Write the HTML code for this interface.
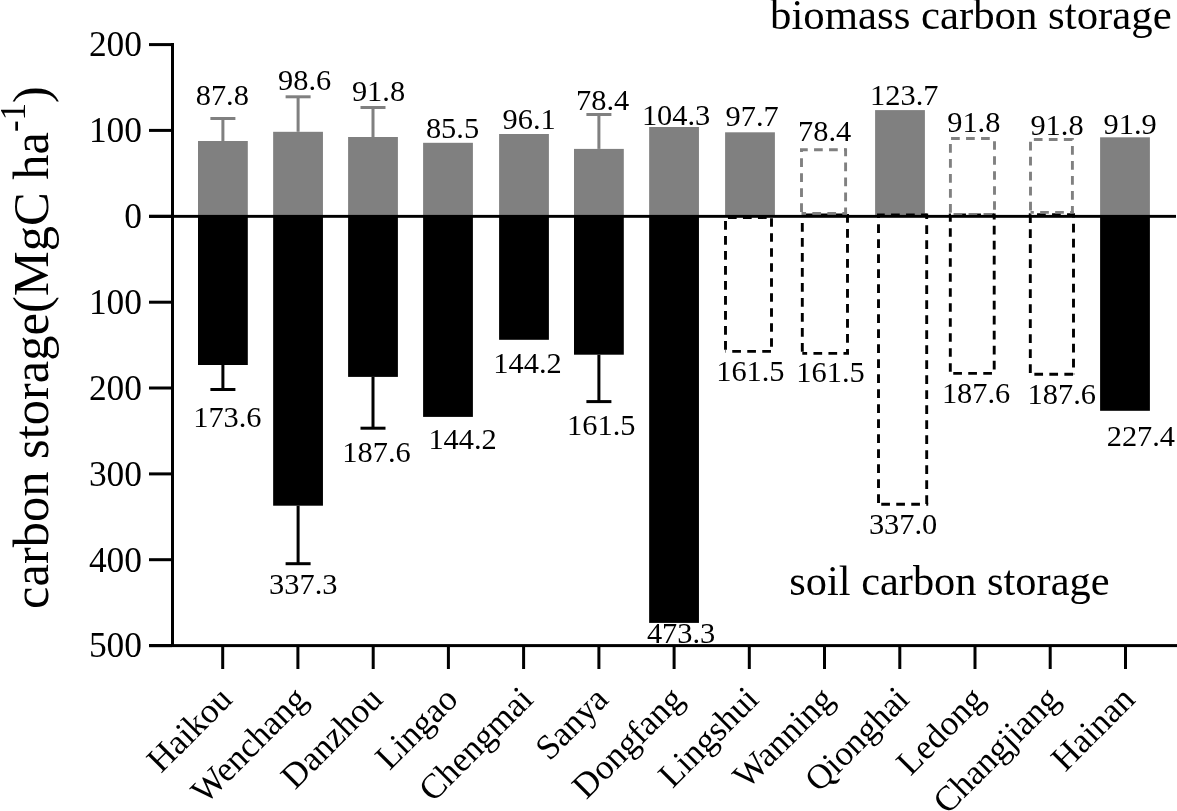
<!DOCTYPE html>
<html><head><meta charset="utf-8"><style>
html,body{margin:0;padding:0;background:#fff;width:1177px;height:811px;overflow:hidden;}
text{font-family:"Liberation Serif", serif;fill:#000;}
</style></head><body>
<svg width="1177" height="811" viewBox="0 0 1177 811" style="display:block;will-change:transform">
<rect width="1177" height="811" fill="#fff"/>
<rect x="198.00" y="141.0" width="49.8" height="75.3" fill="#808080"/>
<rect x="273.15" y="131.8" width="49.8" height="84.5" fill="#808080"/>
<rect x="348.10" y="137.0" width="49.8" height="79.3" fill="#808080"/>
<rect x="423.10" y="142.8" width="49.8" height="73.5" fill="#808080"/>
<rect x="499.10" y="134.0" width="49.8" height="82.3" fill="#808080"/>
<rect x="574.00" y="148.9" width="49.8" height="67.4" fill="#808080"/>
<rect x="649.15" y="127.0" width="49.8" height="89.3" fill="#808080"/>
<rect x="725.10" y="132.3" width="49.8" height="84.0" fill="#808080"/>
<rect x="875.10" y="110.1" width="49.8" height="106.2" fill="#808080"/>
<rect x="1100.10" y="137.3" width="49.8" height="79.0" fill="#808080"/>
<rect x="198.00" y="216.3" width="49.8" height="148.7" fill="#000"/>
<rect x="273.15" y="216.3" width="49.8" height="289.4" fill="#000"/>
<rect x="348.10" y="216.3" width="49.8" height="160.6" fill="#000"/>
<rect x="423.10" y="216.3" width="49.8" height="200.6" fill="#000"/>
<rect x="499.10" y="216.3" width="49.8" height="123.5" fill="#000"/>
<rect x="574.00" y="216.3" width="49.8" height="138.4" fill="#000"/>
<rect x="649.15" y="216.3" width="49.8" height="406.6" fill="#000"/>
<rect x="1100.10" y="216.3" width="49.8" height="194.5" fill="#000"/>
<line x1="724.0" y1="217.5" x2="771.5" y2="217.5" stroke="#000" stroke-width="2.9" stroke-dasharray="8.7 6.3" stroke-dashoffset="11.05"/>
<line x1="771.5" y1="216.1" x2="771.5" y2="351.4" stroke="#000" stroke-width="2.9" stroke-dasharray="8.7 6.3" stroke-dashoffset="12.95"/>
<line x1="773.0" y1="351.4" x2="725.5" y2="351.4" stroke="#000" stroke-width="2.9" stroke-dasharray="8.7 6.3" stroke-dashoffset="12.95"/>
<line x1="725.5" y1="352.8" x2="725.5" y2="217.5" stroke="#000" stroke-width="2.9" stroke-dasharray="8.7 6.3" stroke-dashoffset="11.95"/>
<line x1="800.8" y1="215.0" x2="847.5" y2="215.0" stroke="#000" stroke-width="2.9" stroke-dasharray="8.7 6.3" stroke-dashoffset="9.85"/>
<line x1="847.5" y1="213.6" x2="847.5" y2="353.4" stroke="#000" stroke-width="2.9" stroke-dasharray="8.7 6.3" stroke-dashoffset="14.55"/>
<line x1="849.0" y1="353.4" x2="802.3" y2="353.4" stroke="#000" stroke-width="2.9" stroke-dasharray="8.7 6.3" stroke-dashoffset="3.15"/>
<line x1="802.3" y1="354.8" x2="802.3" y2="215.0" stroke="#000" stroke-width="2.9" stroke-dasharray="8.7 6.3" stroke-dashoffset="11.85"/>
<line x1="877.0" y1="215.0" x2="926.7" y2="215.0" stroke="#000" stroke-width="2.9" stroke-dasharray="8.7 6.3" stroke-dashoffset="0.95"/>
<line x1="926.7" y1="213.6" x2="926.7" y2="504.2" stroke="#000" stroke-width="2.9" stroke-dasharray="8.7 6.3" stroke-dashoffset="3.25"/>
<line x1="928.2" y1="504.2" x2="878.5" y2="504.2" stroke="#000" stroke-width="2.9" stroke-dasharray="8.7 6.3" stroke-dashoffset="6.75"/>
<line x1="878.5" y1="505.6" x2="878.5" y2="215.0" stroke="#000" stroke-width="2.9" stroke-dasharray="8.7 6.3" stroke-dashoffset="12.35"/>
<line x1="948.8" y1="215.0" x2="994.2" y2="215.0" stroke="#000" stroke-width="2.9" stroke-dasharray="8.7 6.3" stroke-dashoffset="6.55"/>
<line x1="994.2" y1="213.6" x2="994.2" y2="373.4" stroke="#000" stroke-width="2.9" stroke-dasharray="8.7 6.3" stroke-dashoffset="2.75"/>
<line x1="995.7" y1="373.4" x2="950.3" y2="373.4" stroke="#000" stroke-width="2.9" stroke-dasharray="8.7 6.3" stroke-dashoffset="11.25"/>
<line x1="950.3" y1="374.8" x2="950.3" y2="215.0" stroke="#000" stroke-width="2.9" stroke-dasharray="8.7 6.3" stroke-dashoffset="12.05"/>
<line x1="1028.8" y1="214.6" x2="1073.5" y2="214.6" stroke="#000" stroke-width="2.9" stroke-dasharray="8.7 6.3" stroke-dashoffset="6.75"/>
<line x1="1073.5" y1="213.2" x2="1073.5" y2="374.3" stroke="#000" stroke-width="2.9" stroke-dasharray="8.7 6.3" stroke-dashoffset="4.35"/>
<line x1="1075.0" y1="374.3" x2="1030.3" y2="374.3" stroke="#000" stroke-width="2.9" stroke-dasharray="8.7 6.3" stroke-dashoffset="13.05"/>
<line x1="1030.3" y1="375.8" x2="1030.3" y2="214.6" stroke="#000" stroke-width="2.9" stroke-dasharray="8.7 6.3" stroke-dashoffset="12.15"/>
<line x1="800.0" y1="149.7" x2="845.6" y2="149.7" stroke="#808080" stroke-width="2.9" stroke-dasharray="8.7 6.3" stroke-dashoffset="0.95"/>
<line x1="845.6" y1="148.2" x2="845.6" y2="213.5" stroke="#808080" stroke-width="2.9" stroke-dasharray="8.7 6.3" stroke-dashoffset="0.75"/>
<line x1="847.1" y1="213.5" x2="801.5" y2="213.5" stroke="#808080" stroke-width="2.9" stroke-dasharray="8.7 6.3" stroke-dashoffset="3.95"/>
<line x1="801.5" y1="214.9" x2="801.5" y2="149.7" stroke="#808080" stroke-width="2.9" stroke-dasharray="8.7 6.3" stroke-dashoffset="12.15"/>
<line x1="948.9" y1="138.5" x2="994.5" y2="138.5" stroke="#808080" stroke-width="2.9" stroke-dasharray="8.7 6.3" stroke-dashoffset="12.85"/>
<line x1="994.5" y1="137.1" x2="994.5" y2="214.5" stroke="#808080" stroke-width="2.9" stroke-dasharray="8.7 6.3" stroke-dashoffset="10.95"/>
<line x1="996.0" y1="214.5" x2="950.4" y2="214.5" stroke="#808080" stroke-width="2.9" stroke-dasharray="8.7 6.3" stroke-dashoffset="11.25"/>
<line x1="950.4" y1="215.9" x2="950.4" y2="138.5" stroke="#808080" stroke-width="2.9" stroke-dasharray="8.7 6.3" stroke-dashoffset="11.85"/>
<line x1="1029.0" y1="139.5" x2="1072.4" y2="139.5" stroke="#808080" stroke-width="2.9" stroke-dasharray="8.7 6.3" stroke-dashoffset="10.15"/>
<line x1="1072.4" y1="138.1" x2="1072.4" y2="212.4" stroke="#808080" stroke-width="2.9" stroke-dasharray="8.7 6.3" stroke-dashoffset="7.15"/>
<line x1="1073.9" y1="212.4" x2="1030.5" y2="212.4" stroke="#808080" stroke-width="2.9" stroke-dasharray="8.7 6.3" stroke-dashoffset="4.95"/>
<line x1="1030.5" y1="213.8" x2="1030.5" y2="139.5" stroke="#808080" stroke-width="2.9" stroke-dasharray="8.7 6.3" stroke-dashoffset="11.65"/>
<rect x="221.4" y="118.5" width="3" height="22.5" fill="#808080"/>
<rect x="210.4" y="117.0" width="25" height="3" fill="#808080"/>
<rect x="296.6" y="96.8" width="3" height="35.0" fill="#808080"/>
<rect x="285.6" y="95.3" width="25" height="3" fill="#808080"/>
<rect x="371.5" y="107.5" width="3" height="29.5" fill="#808080"/>
<rect x="360.5" y="106.0" width="25" height="3" fill="#808080"/>
<rect x="597.4" y="114.5" width="3" height="34.4" fill="#808080"/>
<rect x="586.4" y="113.0" width="25" height="3" fill="#808080"/>
<rect x="221.4" y="365.0" width="3" height="24.5" fill="#000"/>
<rect x="210.4" y="388.0" width="25" height="3" fill="#000"/>
<rect x="296.6" y="505.7" width="3" height="58.0" fill="#000"/>
<rect x="285.6" y="562.2" width="25" height="3" fill="#000"/>
<rect x="371.5" y="376.9" width="3" height="51.3" fill="#000"/>
<rect x="360.5" y="426.7" width="25" height="3" fill="#000"/>
<rect x="597.4" y="354.7" width="3" height="46.9" fill="#000"/>
<rect x="586.4" y="400.1" width="25" height="3" fill="#000"/>
<rect x="171" y="43" width="3" height="604" fill="#000"/>
<rect x="149" y="43.1" width="23" height="3" fill="#000"/>
<text x="142" y="56.4" font-size="35.4" text-anchor="end" font-family='"Liberation Serif", serif'>200</text>
<rect x="149" y="128.9" width="23" height="3" fill="#000"/>
<text x="142" y="142.2" font-size="35.4" text-anchor="end" font-family='"Liberation Serif", serif'>100</text>
<rect x="149" y="214.8" width="23" height="3" fill="#000"/>
<text x="142" y="228.1" font-size="35.4" text-anchor="end" font-family='"Liberation Serif", serif'>0</text>
<rect x="149" y="300.7" width="23" height="3" fill="#000"/>
<text x="142" y="314.0" font-size="35.4" text-anchor="end" font-family='"Liberation Serif", serif'>100</text>
<rect x="149" y="386.5" width="23" height="3" fill="#000"/>
<text x="142" y="399.8" font-size="35.4" text-anchor="end" font-family='"Liberation Serif", serif'>200</text>
<rect x="149" y="472.4" width="23" height="3" fill="#000"/>
<text x="142" y="485.7" font-size="35.4" text-anchor="end" font-family='"Liberation Serif", serif'>300</text>
<rect x="149" y="558.2" width="23" height="3" fill="#000"/>
<text x="142" y="571.5" font-size="35.4" text-anchor="end" font-family='"Liberation Serif", serif'>400</text>
<rect x="149" y="644.1" width="23" height="3" fill="#000"/>
<text x="142" y="657.4" font-size="35.4" text-anchor="end" font-family='"Liberation Serif", serif'>500</text>
<rect x="149" y="214.9" width="1027" height="2.9" fill="#000"/>
<rect x="149" y="644.1" width="1028" height="3" fill="#000"/>
<rect x="221.2" y="646" width="3" height="23" fill="#000"/>
<text transform="translate(233.9,701.2) rotate(-45)" font-size="35" text-anchor="end" font-family='"Liberation Serif", serif'>Haikou</text>
<rect x="296.4" y="646" width="3" height="23" fill="#000"/>
<text transform="translate(309.1,701.2) rotate(-45)" font-size="35" text-anchor="end" font-family='"Liberation Serif", serif'>Wenchang</text>
<rect x="371.7" y="646" width="3" height="23" fill="#000"/>
<text transform="translate(384.4,701.2) rotate(-45)" font-size="35" text-anchor="end" font-family='"Liberation Serif", serif'>Danzhou</text>
<rect x="446.9" y="646" width="3" height="23" fill="#000"/>
<text transform="translate(459.6,701.2) rotate(-45)" font-size="35" text-anchor="end" font-family='"Liberation Serif", serif'>Lingao</text>
<rect x="522.1" y="646" width="3" height="23" fill="#000"/>
<text transform="translate(534.8,701.2) rotate(-45)" font-size="35" text-anchor="end" font-family='"Liberation Serif", serif'>Chengmai</text>
<rect x="597.4" y="646" width="3" height="23" fill="#000"/>
<text transform="translate(610.1,701.2) rotate(-45)" font-size="35" text-anchor="end" font-family='"Liberation Serif", serif'>Sanya</text>
<rect x="672.6" y="646" width="3" height="23" fill="#000"/>
<text transform="translate(685.3,701.2) rotate(-45)" font-size="35" text-anchor="end" font-family='"Liberation Serif", serif'>Dongfang</text>
<rect x="747.8" y="646" width="3" height="23" fill="#000"/>
<text transform="translate(760.5,701.2) rotate(-45)" font-size="35" text-anchor="end" font-family='"Liberation Serif", serif'>Lingshui</text>
<rect x="823.0" y="646" width="3" height="23" fill="#000"/>
<text transform="translate(835.7,701.2) rotate(-45)" font-size="35" text-anchor="end" font-family='"Liberation Serif", serif'>Wanning</text>
<rect x="898.3" y="646" width="3" height="23" fill="#000"/>
<text transform="translate(911.0,701.2) rotate(-45)" font-size="35" text-anchor="end" font-family='"Liberation Serif", serif'>Qionghai</text>
<rect x="973.5" y="646" width="3" height="23" fill="#000"/>
<text transform="translate(986.2,701.2) rotate(-45)" font-size="35" text-anchor="end" font-family='"Liberation Serif", serif'>Ledong</text>
<rect x="1048.7" y="646" width="3" height="23" fill="#000"/>
<text transform="translate(1061.4,701.2) rotate(-45)" font-size="35" text-anchor="end" font-family='"Liberation Serif", serif'>Changjiang</text>
<rect x="1124.0" y="646" width="3" height="23" fill="#000"/>
<text transform="translate(1136.7,701.2) rotate(-45)" font-size="35" text-anchor="end" font-family='"Liberation Serif", serif'>Hainan</text>
<text x="195.7" y="105.4" font-size="30.4" font-family='"Liberation Serif", serif'>87.8</text>
<text x="278.1" y="89.5" font-size="30.4" font-family='"Liberation Serif", serif'>98.6</text>
<text x="351.9" y="101.1" font-size="30.4" font-family='"Liberation Serif", serif'>91.8</text>
<text x="425.9" y="137.8" font-size="30.4" font-family='"Liberation Serif", serif'>85.5</text>
<text x="502.6" y="129.2" font-size="30.4" font-family='"Liberation Serif", serif'>96.1</text>
<text x="576.0" y="109.9" font-size="30.4" font-family='"Liberation Serif", serif'>78.4</text>
<text x="641.9" y="124.7" font-size="30.4" font-family='"Liberation Serif", serif'>104.3</text>
<text x="725.6" y="126.1" font-size="30.4" font-family='"Liberation Serif", serif'>97.7</text>
<text x="798.0" y="140.5" font-size="30.4" font-family='"Liberation Serif", serif'>78.4</text>
<text x="870.1" y="105.2" font-size="30.4" font-family='"Liberation Serif", serif'>123.7</text>
<text x="947.2" y="131.9" font-size="30.4" font-family='"Liberation Serif", serif'>91.8</text>
<text x="1030.4" y="134.6" font-size="30.4" font-family='"Liberation Serif", serif'>91.8</text>
<text x="1103.5" y="134.1" font-size="30.4" font-family='"Liberation Serif", serif'>91.9</text>
<text x="193.2" y="426.8" font-size="30.4" font-family='"Liberation Serif", serif'>173.6</text>
<text x="269.1" y="594.4" font-size="30.4" font-family='"Liberation Serif", serif'>337.3</text>
<text x="342.3" y="462.3" font-size="30.4" font-family='"Liberation Serif", serif'>187.6</text>
<text x="428.4" y="449.2" font-size="30.4" font-family='"Liberation Serif", serif'>144.2</text>
<text x="493.3" y="373.2" font-size="30.4" font-family='"Liberation Serif", serif'>144.2</text>
<text x="567.1" y="435.3" font-size="30.4" font-family='"Liberation Serif", serif'>161.5</text>
<text x="646.9" y="643.4" font-size="30.4" font-family='"Liberation Serif", serif'>473.3</text>
<text x="716.2" y="380.6" font-size="30.4" font-family='"Liberation Serif", serif'>161.5</text>
<text x="796.3" y="382.0" font-size="30.4" font-family='"Liberation Serif", serif'>161.5</text>
<text x="868.9" y="534.3" font-size="30.4" font-family='"Liberation Serif", serif'>337.0</text>
<text x="941.9" y="402.6" font-size="30.4" font-family='"Liberation Serif", serif'>187.6</text>
<text x="1027.6" y="404.4" font-size="30.4" font-family='"Liberation Serif", serif'>187.6</text>
<text x="1106.7" y="445.7" font-size="30.4" font-family='"Liberation Serif", serif'>227.4</text>
<text x="770" y="28.8" font-size="42.8" font-family='"Liberation Serif", serif'>biomass carbon storage</text>
<text x="789.3" y="595.2" font-size="42.4" font-family='"Liberation Serif", serif'>soil carbon storage</text>
<text transform="translate(47.5,608.9) rotate(-90)" font-size="50.5" font-family='"Liberation Serif", serif'>carbon storage(MgC ha<tspan font-size="35" dy="-23">-1</tspan><tspan dy="23">)</tspan></text>
</svg>
</body></html>
